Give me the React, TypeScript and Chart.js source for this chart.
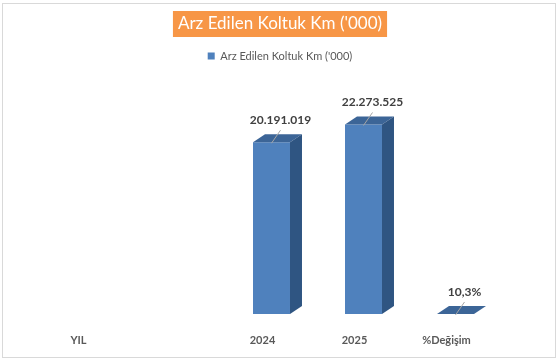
import React, { useEffect, useRef } from "react";
import { Chart, registerables } from "chart.js";

Chart.register(...registerables);

// ---- data ----
const titleText = "Arz Edilen Koltuk Km ('000)";
const seriesName = "Arz Edilen Koltuk Km ('000)";
const categories = ["YIL", "", "2024", "2025", "%Değişim"];
const values: (number | null)[] = [null, null, 20191019, 22273525, 10.3];
const percentCategory = "%Değişim";

// ---- styles ----
const FRONT = "#4F81BD";
const TOP = "#3C6597";
const SIDE = "#2F5582";
const DX = 12;
const DY = -8;
const FONT = "Lato";
const TITLE_SIZE = 17;
const TITLE_PAD_TOP = 13.8;

function formatValue(i: number): string {
  const v = values[i];
  if (v == null) return "";
  if (categories[i] === percentCategory) {
    return String(v).replace(".", ",") + "%";
  }
  return Math.round(v)
    .toString()
    .replace(/\B(?=(\d{3})+(?!\d))/g, ".");
}

const decorPlugin = {
  id: "decor3d",
  beforeDraw(chart: any) {
    const ctx = chart.ctx as CanvasRenderingContext2D;
    ctx.save();
    ctx.fillStyle = "#ffffff";
    ctx.fillRect(0, 0, chart.width, chart.height);
    ctx.strokeStyle = "#D9D9D9";
    ctx.lineWidth = 1;
    ctx.strokeRect(2.5, 3.5, 553, 354);
    const tb = chart.titleBlock;
    if (tb) {
      ctx.font = `normal ${TITLE_SIZE}px ${FONT}`;
      const w = ctx.measureText(titleText).width;
      const cx = (tb.left + tb.right) / 2;
      const cy = tb.top + TITLE_PAD_TOP + (TITLE_SIZE * 1.2) / 2;
      ctx.fillStyle = "#F79646";
      ctx.fillRect(cx - w / 2 - 5, cy - 13, w + 10, 26);
    }
    ctx.restore();
  },
  afterDatasetsDraw(chart: any) {
    const ctx = chart.ctx as CanvasRenderingContext2D;
    const meta = chart.getDatasetMeta(0);
    ctx.save();
    meta.data.forEach((el: any, i: number) => {
      if (values[i] == null) return;
      const { x, y, base, width } = el.getProps(["x", "y", "base", "width"], true);
      const left = x - width / 2;
      const right = x + width / 2;
      const top = Math.min(y, base);
      const bottom = Math.max(y, base);
      // top face
      ctx.fillStyle = TOP;
      ctx.beginPath();
      ctx.moveTo(left, top);
      ctx.lineTo(left + DX, top + DY);
      ctx.lineTo(right + DX, top + DY);
      ctx.lineTo(right, top);
      ctx.closePath();
      ctx.fill();
      // side face
      if (bottom - top > 0.5) {
        ctx.fillStyle = SIDE;
        ctx.beginPath();
        ctx.moveTo(right, top);
        ctx.lineTo(right + DX, top + DY);
        ctx.lineTo(right + DX, bottom + DY);
        ctx.lineTo(right, bottom);
        ctx.closePath();
        ctx.fill();
      }
      // leader line
      ctx.strokeStyle = "#A6A6A6";
      ctx.lineWidth = 1;
      ctx.beginPath();
      ctx.moveTo(x + 9, top - 12);
      ctx.lineTo(x, top + 1);
      ctx.stroke();
      // label
      ctx.fillStyle = "#404040";
      ctx.font = `bold 12px ${FONT}`;
      ctx.textAlign = "center";
      ctx.textBaseline = "middle";
      ctx.fillText(formatValue(i), x + 9, top - 22);
    });
    ctx.restore();
  },
};

export default function App() {
  const ref = useRef<HTMLCanvasElement | null>(null);
  useEffect(() => {
    if (!ref.current) return;
    const chart = new Chart(ref.current, {
      type: "bar",
      data: {
        labels: categories,
        datasets: [
          {
            label: seriesName,
            data: values as any,
            backgroundColor: FRONT,
            borderWidth: 0,
            barPercentage: 0.402,
            categoryPercentage: 1,
          },
        ],
      },
      options: {
        responsive: false,
        animation: false,
        layout: { padding: { left: 41.5, right: 41.5, top: 0, bottom: 15.8 } },
        plugins: {
          title: {
            display: true,
            text: titleText,
            color: "#ffffff",
            font: { family: FONT, size: TITLE_SIZE, weight: "normal" },
            padding: { top: TITLE_PAD_TOP, bottom: 6.3 },
          },
          legend: {
            display: true,
            position: "top",
            labels: {
              boxWidth: 7,
              boxHeight: 7,
              color: "#595959",
              font: { family: FONT, size: 11 },
              padding: 10,
            },
          },
          tooltip: { enabled: false },
        },
        scales: {
          x: {
            grid: { display: false, drawTicks: false },
            border: { display: false },
            ticks: {
              color: "#595959",
              font: { family: FONT, size: 11, weight: "bold" },
              padding: 20,
              labelOffset: -9,
              autoSkip: false,
              maxRotation: 0,
            },
            afterFit: (s: any) => {
              s.height = 33.2;
            },
          },
          y: {
            position: "right",
            min: 0,
            max: 28500000,
            grid: { display: false, drawTicks: false },
            border: { display: false },
            ticks: { display: false },
            afterFit: (s: any) => {
              s.width = 17;
            },
          },
        },
      },
      plugins: [decorPlugin],
    });
    return () => chart.destroy();
  }, []);
  return (
    <div style={{ position: "fixed", left: 0, top: 0, width: 560, height: 363, background: "#fff" }}>
      <canvas ref={ref} width={560} height={363} style={{ display: "block" }} />
    </div>
  );
}
